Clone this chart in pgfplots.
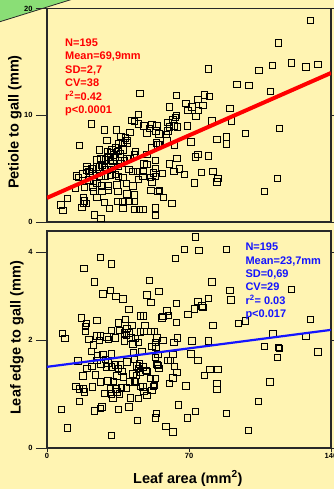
\documentclass[border=0pt]{standalone}
\usepackage{fontspec}
\setmainfont{Liberation Sans}
\usepackage{pgfplots}
\pgfplotsset{compat=1.18}
\usetikzlibrary{calc,backgrounds}
\definecolor{bg}{RGB}{255,244,178}
\definecolor{grn}{RGB}{138,222,118}
\definecolor{frm}{RGB}{40,40,40}
\definecolor{myred}{RGB}{255,0,0}
\definecolor{myblue}{RGB}{20,20,255}
\pgfplotsset{
 mystyle/.style={scale only axis, width=284pt, xmin=0, xmax=140,
  axis line style={frm,line width=1.1pt}, tick align=outside, major tick length=11pt,
  tick style={frm,line width=0.8pt}, xtick style={draw=none},
  tick label style={font=\fontsize{7.5}{8}\selectfont\bfseries},
  /pgf/number format/assume math mode=true,
  label style={font=\fontsize{14.5}{17}\selectfont\bfseries},
  axis background/.style={fill=bg}, clip mode=individual},
 pts/.style={only marks, mark=square, mark size=3.2pt, mark options={draw=black, fill=bg, line width=0.9pt}}
}
\begin{document}
\begin{tikzpicture}[x=1pt,y=1pt]
\begin{axis}[mystyle, name=top, height=213.5pt,
  ymin=0, ymax=20, ytick={0,10,20}, xtick={0,70,140}, xticklabels={},
  ylabel={Petiole to gall (mm)},
  ylabel style={at={(axis description cs:-0.1127,0.468)}, anchor=center}]
\addplot[pts] table {
x y
45.8 12.02
21.8 9.2
28.4 8.64
34.2 8.64
29.6 7.63
16.1 7.16
41.9 9.51
43.0 9.42
45.0 9.2
45.2 10.05
40.8 8.38
36.5 8.0
38.6 7.86
39.4 7.63
39.8 7.39
37.5 7.45
35.3 7.32
33.7 6.92
32.0 6.76
34.9 6.6
37.5 6.76
36.1 6.38
32.9 6.29
31.2 6.45
29.9 6.6
26.0 6.76
43.5 6.6
43.0 6.29
40.8 5.98
24.6 5.82
26.6 5.89
28.7 5.82
31.2 5.76
32.5 5.66
33.7 6.08
30.4 6.08
19.7 5.19
19.4 4.88
22.2 4.98
24.3 5.14
26.0 5.14
27.1 5.35
28.2 5.1
29.6 4.88
32.0 4.95
34.9 5.19
36.5 5.51
38.1 5.76
39.4 5.89
14.4 4.32
15.6 4.2
17.7 4.51
20.6 4.72
22.7 4.51
24.6 4.57
26.6 4.32
28.7 4.25
31.2 4.41
33.7 4.48
35.3 4.25
37.5 4.16
40.3 4.95
42.4 4.72
44.7 4.72
20.6 3.94
23.0 3.78
24.6 3.63
26.8 3.38
30.4 3.38
34.5 3.47
39.1 3.63
42.4 3.38
45.2 4.01
14.0 3.16
18.4 3.26
22.7 3.26
23.0 2.85
27.1 2.85
30.4 2.94
34.9 2.85
39.4 2.63
43.0 2.54
43.0 1.91
10.2 2.23
18.1 2.32
18.4 1.97
19.4 1.76
24.6 2.32
28.2 1.81
34.9 1.91
37.5 1.91
40.3 1.91
6.9 1.6
7.9 1.06
17.3 1.38
18.1 1.76
30.9 1.29
37.5 1.29
43.0 1.19
45.7 1.19
23.3 0.66
26.6 0.35
79.7 14.34
93.7 12.89
63.7 11.86
77.7 11.9
80.2 11.77
74.4 11.46
71.5 10.77
68.5 11.08
69.4 10.45
74.8 10.45
76.8 10.89
73.5 9.89
60.5 10.77
63.7 9.98
63.3 9.77
62.0 9.58
59.7 9.3
62.5 8.99
64.4 8.92
60.3 8.89
59.7 8.52
58.8 8.2
90.1 10.64
81.3 9.46
90.9 9.46
69.2 8.99
47.7 8.99
51.8 9.14
54.2 8.99
49.3 8.36
50.4 8.76
53.7 8.52
55.1 8.26
53.9 7.42
54.7 7.2
55.4 7.26
59.2 7.58
62.8 7.2
71.0 7.51
83.8 7.73
88.4 7.98
88.4 7.32
51.4 6.95
49.3 6.32
47.7 5.45
49.3 5.38
53.4 5.76
64.1 5.94
60.5 5.45
73.1 6.08
74.4 6.32
79.7 6.2
53.4 5.0
52.6 4.6
53.4 4.29
57.0 4.54
62.5 4.76
65.2 4.98
67.9 4.44
76.1 4.63
81.8 4.72
84.3 4.07
83.8 3.76
72.6 3.66
47.3 4.76
47.3 4.29
50.9 4.2
51.8 3.76
51.3 2.98
54.6 2.88
55.4 2.98
57.5 2.32
61.6 1.76
53.4 1.31
53.4 0.59
47.3 1.15
130.0 18.9
114.2 16.78
104.4 14.21
111.1 14.68
120.6 14.9
127.7 14.53
133.5 14.77
99.6 12.77
110.1 12.23
97.8 8.29
114.7 8.76
113.5 4.07
107.1 2.85
};
\addplot[myred, line width=4pt] coordinates {(0,2.26) (140,13.96)};
\end{axis}
\begin{axis}[mystyle, name=bot, at={($(top.origin)+(0,-206)$)}, anchor=origin, height=217pt,
  ymin=-0.4545, ymax=4.477, ytick={-0.4545,2,4}, yticklabels={0,2,4},
  xtick={0,70,140}, xticklabel style={yshift=9pt},
  ylabel={Leaf edge to gall (mm)},
  ylabel style={at={(axis description cs:-0.1056,0.507)}, anchor=center},
  xlabel={Leaf area (mm\textsuperscript{2})},
  xlabel style={at={(axis description cs:0.496,0)}, anchor=base, yshift=-35pt}]
\addplot[pts] table {
x y
26.3 3.87
18.2 3.62
31.7 3.73
23.5 3.32
27.6 3.05
31.2 3.13
34.0 2.99
37.5 2.93
40.4 2.69
46.0 2.55
17.1 2.5
19.4 2.37
18.9 2.31
19.1 2.2
24.6 2.44
7.7 2.15
8.9 2.03
35.2 2.39
38.8 2.47
41.9 2.33
39.4 2.26
46.0 2.18
31.7 2.22
35.6 2.22
38.3 2.16
40.3 2.16
39.1 2.11
41.4 2.05
45.2 1.95
43.5 2.03
20.6 2.01
23.0 1.89
24.6 2.09
26.3 2.09
26.0 1.99
29.6 2.07
30.4 2.01
33.7 2.05
38.1 1.98
42.4 1.91
42.7 1.71
46.8 1.74
21.8 1.74
25.0 1.64
27.6 1.67
31.7 1.68
28.7 1.56
24.6 1.54
26.6 1.46
30.1 1.48
29.2 1.39
31.7 1.39
33.7 1.43
36.1 1.43
39.4 1.5
43.0 1.56
44.4 1.41
45.7 1.46
15.3 1.52
19.7 1.35
22.2 1.4
17.7 1.18
23.8 1.21
26.3 1.05
35.3 1.35
37.0 1.29
37.8 1.16
34.5 1.18
42.4 1.23
43.0 1.06
45.2 1.36
44.0 1.2
46.0 1.27
30.1 1.07
32.9 1.06
40.8 1.05
43.5 1.05
46.0 0.95
14.3 0.95
15.9 0.89
18.1 0.89
18.4 0.82
22.5 0.93
31.2 0.89
33.9 0.89
36.6 0.91
39.1 0.91
34.5 0.82
28.2 0.79
31.7 0.77
32.5 0.67
35.8 0.77
41.1 0.68
45.2 0.67
15.9 0.61
7.2 0.42
23.5 0.39
26.3 0.45
27.1 0.48
35.3 0.42
40.4 0.48
44.7 0.17
10.2 0.0
31.7 -0.17
73.1 4.34
67.9 4.06
74.9 4.03
63.3 3.85
88.4 4.06
50.4 3.35
81.3 3.32
90.1 3.13
90.7 2.91
49.3 3.02
55.1 3.1
51.3 2.85
63.9 2.83
74.4 2.88
79.7 2.94
72.8 2.71
76.4 2.77
76.9 2.74
69.4 2.58
59.2 2.66
57.2 2.54
56.7 2.5
60.0 2.56
47.5 2.55
48.2 2.33
47.7 2.2
63.9 2.4
81.8 2.33
51.3 2.2
52.9 2.2
54.2 2.05
53.4 1.95
51.8 1.86
53.7 1.84
57.2 1.99
62.5 1.95
64.4 2.05
71.5 1.98
79.7 1.98
53.4 1.61
54.6 1.67
62.1 1.67
71.0 1.68
74.4 1.54
59.7 1.54
60.8 1.54
54.7 1.42
55.1 1.35
54.2 1.44
62.8 1.4
64.1 1.26
62.0 1.14
60.5 1.01
47.2 1.39
48.8 1.31
49.3 1.29
50.9 1.12
53.4 1.12
53.1 0.97
52.6 0.95
51.8 0.86
49.3 0.74
47.7 0.83
47.2 0.93
77.7 1.19
80.4 1.33
84.3 1.33
83.8 1.01
83.8 0.88
68.5 0.96
64.9 0.52
73.1 0.38
69.2 0.23
88.4 0.33
53.9 0.33
53.4 0.23
58.7 0.04
62.1 -0.09
120.4 3.15
97.8 2.43
94.5 2.37
130.0 2.47
111.3 2.14
127.7 2.08
107.3 1.86
114.0 1.83
114.7 1.81
113.7 1.61
133.5 1.73
109.9 1.05
104.2 0.6
99.4 -0.06
};
\addplot[myblue, line width=2.2pt] coordinates {(0,1.39) (140,2.23)};
\draw[frm, line width=0.8pt] (axis cs:0,-0.4545) -- ([yshift=-4pt]axis cs:0,-0.4545);
\draw[frm, line width=0.8pt] (axis cs:70,-0.4545) -- ([yshift=-4pt]axis cs:70,-0.4545);
\draw[frm, line width=0.8pt] (axis cs:140,-0.4545) -- ([yshift=-4pt]axis cs:140,-0.4545);
\end{axis}
\coordinate (O) at (top.origin);
\begin{scope}[on background layer]
\fill[bg] ($(O)+(-47,-267)$) rectangle ($(O)+(287,222)$);
\fill[grn,draw=frm,line width=0.8pt] ($(O)+(-48,200)$) -- ($(O)+(26,223)$) -- ($(O)+(-48,223)$) -- cycle;
\end{scope}
\begin{scope}[every node/.style={anchor=base west, inner sep=0pt, font=\fontsize{11}{13}\selectfont\bfseries}]
\node[myred] at ($(O)+(18,175.7)$) {N=195};
\node[myred] at ($(O)+(18,162.2)$) {Mean=69,9mm};
\node[myred] at ($(O)+(18,148.7)$) {SD=2,7};
\node[myred] at ($(O)+(18,135.2)$) {CV=38};
\node[myred] at ($(O)+(18,121.7)$) {r\textsuperscript{2}=0.42};
\node[myred] at ($(O)+(18,108.2)$) {p<0.0001};
\node[myblue] at ($(O)+(198.3,-29)$) {N=195};
\node[myblue] at ($(O)+(198.3,-42.3)$) {Mean=23,7mm};
\node[myblue] at ($(O)+(198.3,-55.6)$) {SD=0,69};
\node[myblue] at ($(O)+(198.3,-68.9)$) {CV=29};
\node[myblue] at ($(O)+(198.3,-82.2)$) {r\textsuperscript{2}= 0.03};
\node[myblue] at ($(O)+(198.3,-95.5)$) {p<0.017};
\end{scope}
\pgfresetboundingbox
\useasboundingbox ($(O)+(-47,-267)$) rectangle ($(O)+(287,222)$);
\end{tikzpicture}
\end{document}
